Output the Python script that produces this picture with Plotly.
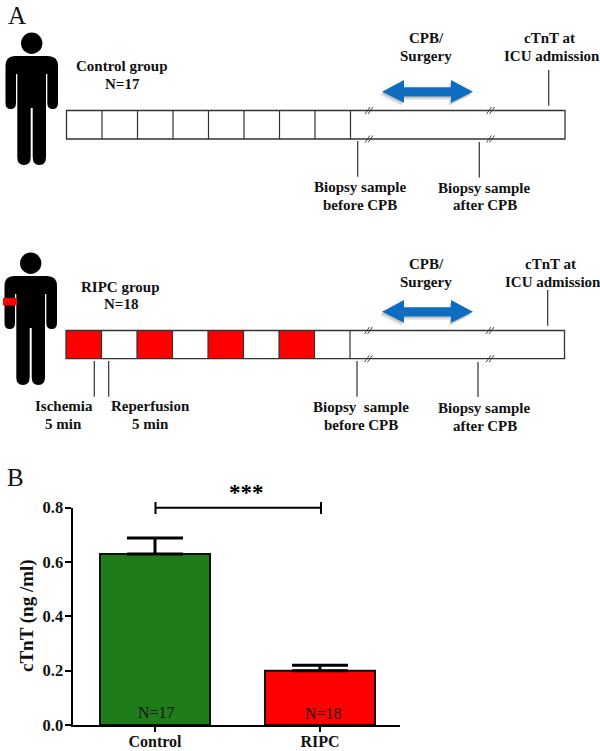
import plotly.graph_objects as go

# bar chart values
GROUPS = ["Control", "RIPC"]
CTNT_MEAN = [0.63, 0.20]
CTNT_SEM = [0.058, 0.02]
BAR_COLORS = ["#1e7d18", "#ff0000"]
BAR_NOTES = ["N=17", "N=18"]
Y_TICKS = [0.0, 0.2, 0.4, 0.6, 0.8]

# protocol timelines, drawn on a full page axis that counts in picture pixels
CELL_EDGES = [0, 35.5, 71, 106.5, 142, 177.5, 213, 248.5, 284]
RIPC_RED_CELLS = [0, 2, 4, 6]

FONT = "Liberation Serif"
BLACK = "#000000"
LINE = "#333333"
BLUE = "#0f6dbf"

DIAGRAM_LABELS = [
    ("Control group", 122, 66), ("N=17", 122, 84),
    ("CPB/", 426, 38), ("Surgery", 426, 56),
    ("cTnT at", 549.5, 38), ("ICU admission", 551.5, 56),
    ("Biopsy sample", 360, 187), ("before CPB", 360, 204.5),
    ("Biopsy sample", 483.5, 187.5), ("after CPB", 485, 205),
    ("RIPC group", 120.5, 286.5), ("N=18", 120.5, 303.5),
    ("CPB/", 426, 264), ("Surgery", 426, 282),
    ("cTnT at", 550.5, 264), ("ICU admission", 552.5, 282),
    ("Ischemia", 63.5, 405.5), ("5 min", 63.5, 423.5),
    ("Reperfusion", 150.5, 405.5), ("5 min", 150.5, 423.5),
    ("Biopsy  sample", 360.5, 406.5), ("before CPB", 360.5, 424.5),
    ("Biopsy sample", 483.5, 407.5), ("after CPB", 485, 425.5),
]


def px_shape(**kwargs):
    return dict(xref="x2", yref="y2", **kwargs)


def vline(x, y0, y1):
    return px_shape(type="line", x0=x, x1=x, y0=y0, y1=y1, line=dict(color=LINE, width=1.2))


def person_shapes(dx, dy):
    """Pictogram of a standing person, the body as one path."""
    pts = [
        ("M", 15, 56), ("Q", 5.5, 56, 5.5, 66), ("L", 5.5, 103), ("Q", 5.5, 109, 10.7, 109),
        ("Q", 16, 109, 16, 103), ("L", 16, 74), ("L", 17.3, 74), ("L", 17.3, 157),
        ("Q", 17.3, 165, 24, 165), ("Q", 30.7, 165, 30.7, 157), ("L", 30.7, 108), ("L", 32.7, 108),
        ("L", 32.7, 157), ("Q", 32.7, 165, 39.4, 165), ("Q", 46, 165, 46, 157), ("L", 46, 74),
        ("L", 47.3, 74), ("L", 47.3, 103), ("Q", 47.3, 109, 52.7, 109), ("Q", 58, 109, 58, 103),
        ("L", 58, 66), ("Q", 58, 56, 48, 56),
    ]
    path = ""
    for p in pts:
        coords = p[1:]
        moved = [c + (dx if i % 2 == 0 else dy) for i, c in enumerate(coords)]
        path += p[0] + " " + " ".join(str(round(c, 1)) for c in moved) + " "
    path += "Z"
    body = px_shape(type="path", path=path, fillcolor=BLACK, line=dict(width=0))
    head = px_shape(
        type="circle", x0=21 + dx, x1=42.4 + dx, y0=32.6 + dy, y1=54 + dy,
        fillcolor=BLACK, line=dict(width=0),
    )
    return [body, head]


def arrow_shapes(y):
    """Blue double headed arrow with a soft shadow under it."""
    def arrow_path(dx, dy):
        p = [
            (382, y), (404, y - 11.7), (404, y - 4.4), (451, y - 4.4), (451, y - 11.7),
            (473, y), (451, y + 11), (451, y + 4.7), (404, y + 4.7), (404, y + 11),
        ]
        return "M " + " L ".join(f"{a + dx} {b + dy}" for a, b in p) + " Z"

    shapes = []
    for off in (3.5, 2.5, 1.5):
        shapes.append(px_shape(type="path", path=arrow_path(-off * 0.6, off),
                               fillcolor="rgba(0,0,0,0.08)", line=dict(width=0)))
    shapes.append(px_shape(type="path", path=arrow_path(0, 0), fillcolor=BLUE, line=dict(width=0)))
    return shapes


def timeline_shapes(left, right, top, bottom, red_cells):
    shapes = []
    for i in red_cells:
        shapes.append(px_shape(
            type="rect", x0=left + CELL_EDGES[i], x1=left + CELL_EDGES[i + 1], y0=top, y1=bottom,
            fillcolor="#ff0000", line=dict(width=0),
        ))
    shapes.append(px_shape(type="rect", x0=left, x1=right, y0=top, y1=bottom, line=dict(color=LINE, width=1.3)))
    for edge in CELL_EDGES[1:]:
        shapes.append(vline(left + edge, top, bottom))
    # the // breaks on both long edges
    for x in (left + 302.5, left + 424):
        for y in (top, bottom):
            for off in (-1.5, 1.5):
                shapes.append(px_shape(
                    type="line", x0=x + off - 2.5, x1=x + off + 2.5, y0=y + 3.5, y1=y - 3.5,
                    line=dict(color=LINE, width=0.9),
                ))
    return shapes


def create_figure():
    fig = go.Figure()

    fig.add_trace(go.Bar(
        x=GROUPS,
        y=CTNT_MEAN,
        width=0.667,
        marker=dict(color=BAR_COLORS, line=dict(color="#111111", width=2)),
        error_y=dict(type="data", symmetric=False, array=CTNT_SEM, arrayminus=[0, 0],
                     color=BLACK, thickness=3, width=28),
        showlegend=False,
    ))

    # invisible trace so the pixel axes exist
    fig.add_trace(go.Scatter(x=[0, 600], y=[0, 751], xaxis="x2", yaxis="y2", mode="markers",
                             marker=dict(opacity=0), showlegend=False, hoverinfo="skip"))

    shapes = []
    shapes += person_shapes(0, 0) + person_shapes(-1, 220)
    shapes.append(px_shape(type="rect", x0=3, x1=17, y0=298, y1=305.5, fillcolor="#ff0000",
                           line=dict(width=0)))
    shapes += arrow_shapes(91.7) + arrow_shapes(311.7)
    shapes += timeline_shapes(66.5, 565, 110.5, 139, [])
    shapes += timeline_shapes(66, 564.5, 330.5, 358.7, RIPC_RED_CELLS)
    shapes += [
        vline(357.7, 141, 176.7), vline(479.3, 142, 177.5), vline(548.7, 70, 105.7),
        vline(94.3, 361, 396.7), vline(108.7, 361, 396.7), vline(357, 361, 396.7),
        vline(478, 362, 397), vline(547.7, 290, 325.7),
    ]
    # significance bracket goes on the page axes, bar axes would clip it at 0.8
    bracket = dict(type="line", line=dict(color=BLACK, width=2))
    shapes += [
        px_shape(x0=155.5, x1=321, y0=507.7, y1=507.7, **bracket),
        px_shape(x0=155.5, x1=155.5, y0=502, y1=514, **bracket),
        px_shape(x0=321, x1=321, y0=502, y1=514, **bracket),
    ]

    annotations = []
    for text, x, y in DIAGRAM_LABELS:
        annotations.append(dict(text=f"<b>{text}</b>", x=x, y=y, xref="x2", yref="y2", showarrow=False,
                                font=dict(family=FONT, size=15, color="#111111")))
    for text, x, y in [("A", 17, 15), ("B", 15, 477)]:
        annotations.append(dict(text=text, x=x, y=y, xref="x2", yref="y2", showarrow=False,
                                font=dict(family=FONT, size=25, color="#111111")))
    annotations.append(dict(text="<b>***</b>", x=246, y=492, xref="x2", yref="y2", showarrow=False,
                            font=dict(family=FONT, size=23, color=BLACK)))
    for text, x, y in zip(BAR_NOTES, [156, 323], [712, 713]):
        annotations.append(dict(text=text, x=x, y=y, xref="x2", yref="y2", showarrow=False,
                                font=dict(family=FONT, size=16, color="#111111")))
    annotations.append(dict(text="<b>cTnT (ng /ml)</b>", x=27, y=616, xref="x2", yref="y2", showarrow=False,
                            textangle=-90, font=dict(family=FONT, size=19, color="#111111")))

    fig.update_layout(
        width=600,
        height=751,
        margin=dict(l=0, r=0, t=0, b=0),
        paper_bgcolor="white",
        plot_bgcolor="rgba(0,0,0,0)",
        font=dict(family=FONT, color=BLACK),
        shapes=shapes,
        annotations=annotations,
        xaxis=dict(
            domain=[72.5 / 600, 400 / 600],
            range=[-0.5, 1.485],
            type="category",
            automargin=False,
            showgrid=False,
            showline=True,
            linecolor=BLACK,
            linewidth=2,
            ticks="outside",
            ticklen=5,
            tickwidth=2,
            tickcolor=BLACK,
            ticklabelstandoff=-4,
            tickfont=dict(family=FONT, size=16, color="#111111", weight="bold"),
        ),
        yaxis=dict(
            domain=[26 / 751, 243.3 / 751],
            range=[0, 0.8],
            tickvals=Y_TICKS,
            tickformat=".1f",
            automargin=False,
            showgrid=False,
            zeroline=False,
            showline=True,
            linecolor=BLACK,
            linewidth=2,
            ticks="outside",
            ticklen=6,
            tickwidth=2,
            tickcolor=BLACK,
            ticklabelstandoff=-2,
            tickfont=dict(family=FONT, size=16.5, color="#111111", weight="bold"),
        ),
        xaxis2=dict(domain=[0, 1], range=[0, 600], visible=False, anchor="y2", automargin=False),
        yaxis2=dict(domain=[0, 1], range=[751, 0], visible=False, anchor="x2", automargin=False),
    )
    return fig


fig = create_figure()
fig.write_html("out.html", config={"displayModeBar": False}, post_script="document.body.style.margin='0';")
